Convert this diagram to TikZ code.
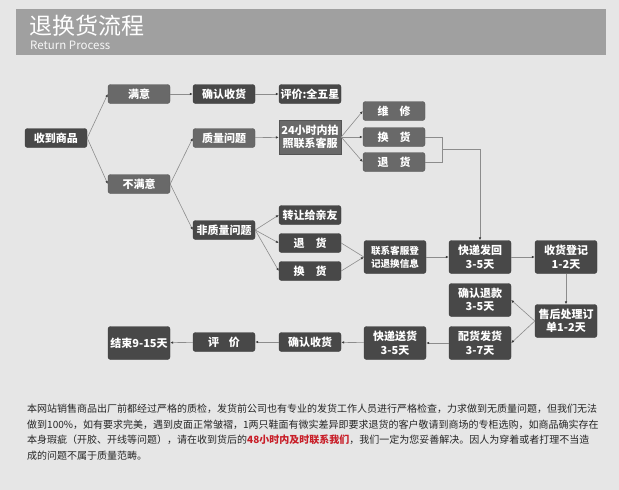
\documentclass[tikz,border=0pt]{standalone}
\usepackage{fontspec}
\setmainfont{Noto Sans CJK SC}
\usetikzlibrary{arrows.meta,positioning,calc}
\definecolor{pageGray}{RGB}{230,230,230}
\definecolor{barGray}{RGB}{160,160,160}
\definecolor{boxDark}{RGB}{72,72,72}
\definecolor{boxMid}{RGB}{105,105,105}
\definecolor{lineGray}{RGB}{140,140,140}
\definecolor{tipGray}{RGB}{60,60,60}
\definecolor{noteRed}{RGB}{200,30,40}
\tikzset{
  box/.style={rounded corners=2.5pt,fill=boxDark,draw=boxDark!80!black,line width=.4pt,text=white,
    font=\bfseries\fontsize{11}{13.5}\selectfont,minimum width=62pt,minimum height=19pt,inner sep=1pt,align=center},
  tallbox/.style={box,minimum height=33pt},
  midbox/.style={box,fill=boxMid,draw=boxMid!80!black},
  link/.style={draw=lineGray,line width=.6pt,-{Latex[length=3pt,width=2.6pt,color=tipGray]}},
  plainlink/.style={draw=lineGray,line width=.6pt},
}

\begin{document}
\begin{tikzpicture}[x=1pt,y=-1pt]
\useasboundingbox (0,0) rectangle (619,490);
\fill[pageGray] (0,0) rectangle (619,490);
% title bar
\fill[barGray] (16,9) rectangle (606,55);
\node[anchor=west,inner sep=0pt,text=white,font=\fontsize{23}{23}\selectfont] (title) at (29,26) {退换货流程};
\node[anchor=west,inner sep=0pt,text=white!92!barGray,font=\fontsize{11.5}{12}\selectfont] (subtitle) at (30,45.5) {Return Process};

% first branches
\node[box] (recv) at (56,138) {收到商品};
\node[midbox] (good) at (139,94) {满意};
\node[midbox] (bad) at (139,184) {不满意};
\node[box] (confirmA) at (224,94) {确认收货};
\node[box] (rateA) at (310,94) {评价:全五星};

% quality problem
\node[midbox] (qual) at (224,138) {质量问题};
\node[midbox,sharp corners,minimum height=34pt] (photo) at (310,137) {24小时内拍\\照联系客服};
\node[midbox] (repair) at (394,111) {维\hspace{1em}修};
\node[midbox] (swapA) at (394,137) {换\hspace{1em}货};
\node[midbox] (backA) at (394,162) {退\hspace{1em}货};

% no quality problem
\node[box] (nonqual) at (224,230) {非质量问题};
\node[box] (gift) at (310,215) {转让给亲友};
\node[box] (backB) at (310,243) {退\hspace{1em}货};
\node[box] (swapB) at (310,271) {换\hspace{1em}货};

% after-sale chain
\node[tallbox,font=\bfseries\fontsize{9.6}{13}\selectfont] (reg) at (395,257) {联系客服登\\记退换信息};
\node[tallbox] (sendBack) at (480,257) {快递发回\\3-5天};
\node[tallbox] (log) at (566,257) {收货登记\\1-2天};
\node[tallbox] (refund) at (480,300) {确认退款\\3-5天};
\node[tallbox] (after) at (566,321) {售后处理订\\单1-2天};
\node[tallbox] (ship) at (480,343) {配货发货\\3-7天};
\node[tallbox] (deliver) at (395,343) {快递送货\\3-5天};
\node[box] (confirmB) at (310,342) {确认收货};
\node[box] (rateB) at (224,342) {评\hspace{.9em}价};
\node[tallbox] (done) at (139,343) {结束9-15天};

% connectors
\draw[link] (recv.east) -- (good.west);
\draw[link] (recv.east) -- (bad.west);
\draw[link] (good) -- (confirmA);
\draw[link] (confirmA) -- (rateA);
\draw[link] (bad.east) -- (qual.west);
\draw[link] (bad.east) -- (nonqual.west);
\draw[link] (qual) -- (photo);
\draw[link] (photo.east) -- (repair.west);
\draw[link] (photo.east) -- (swapA.west);
\draw[link] (photo.east) -- (backA.west);
\coordinate (join) at ($(swapA.east)!.5!(backA.east)+(17,0)$);
\draw[plainlink] (swapA.east) -| (join) |- (backA.east);
\draw[link] (join) -| (sendBack.north);
\draw[link] (nonqual.east) -- (gift.west);
\draw[link] (nonqual.east) -- (backB.west);
\draw[link] (nonqual.east) -- (swapB.west);
\draw[plainlink] (backB.east) -- (reg.west);
\draw[link] (swapB.east) -- (reg.west);
\draw[link] (reg) -- (sendBack);
\draw[link] (sendBack) -- (log);
\draw[link] (log) -- (after);
\draw[link] (after.west) -- (refund.east);
\draw[link] (after.west) -- (ship.east);
\draw[link] (ship) -- (deliver);
\draw[link] (deliver) -- (confirmB);
\draw[link] (confirmB) -- (rateB);
\draw[link] (rateB) -- (done);

% note
\node[anchor=north west,align=left,inner sep=0pt,text=black!85,font=\fontsize{10}{15.5}\selectfont] (note) at (27,404)
{本网站销售商品出厂前都经过严格的质检，发货前公司也有专业的发货工作人员进行严格检查，力求做到无质量问题，但我们无法\\
做到100\%，如有要求完美，遇到皮面正常皱褶，1两只鞋面有微实差异即要求退货的客户敬请到商场的专柜选购，如商品确实存在\\
本身瑕疵（开胶、开线等问题），请在收到货后的{\bfseries\color{noteRed}48小时内及时联系我们}，我们一定为您妥善解决。因人为穿着或者打理不当造\\
成的问题不属于质量范畴。};
\end{tikzpicture}
\end{document}
